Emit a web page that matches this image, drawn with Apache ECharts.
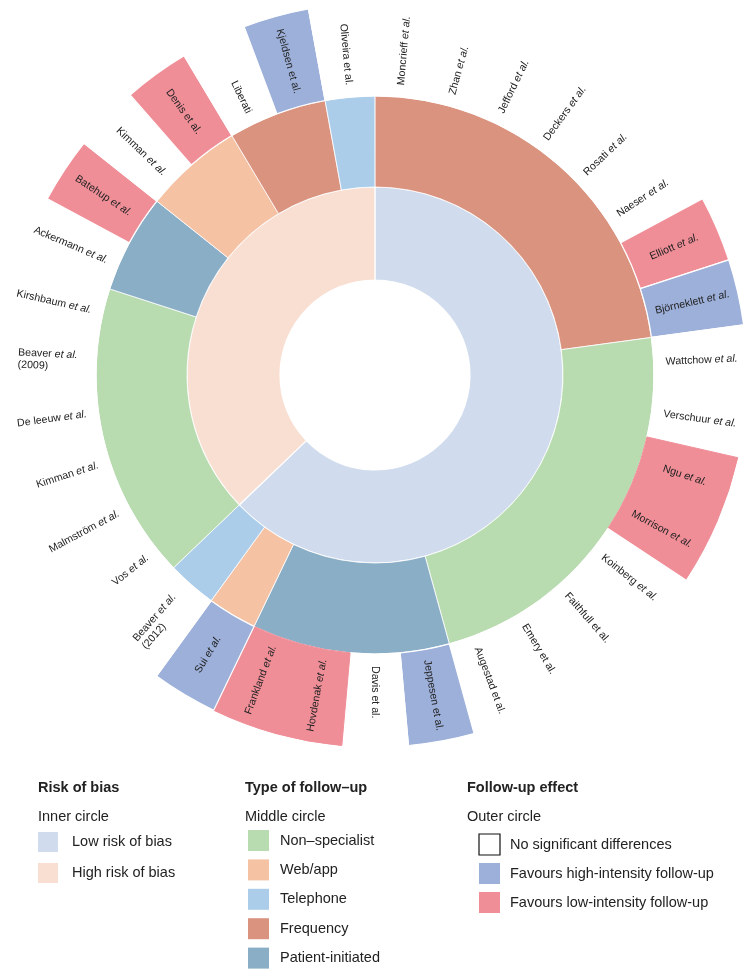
<!DOCTYPE html>
<html><head><meta charset="utf-8">
<script src="https://cdn.jsdelivr.net/npm/echarts@6/dist/echarts.min.js"></script>
<style>html,body{margin:0;padding:0;background:#fff}#c{width:750px;height:969px}</style>
</head><body><div id="c"></div>
<script>
// ---- categories ----
const riskNames = ['Low risk of bias', 'High risk of bias'];
const riskColors = ['#d0dcee', '#f9dfd2'];
const typeNames = ['Non–specialist', 'Web/app', 'Telephone', 'Frequency', 'Patient-initiated'];
const typeColors = ['#b8dbb0', '#f5c2a4', '#abcdea', '#d9937f', '#8aaec6'];
const effectNames = ['No significant differences', 'Favours high-intensity follow-up', 'Favours low-intensity follow-up'];
const effectColors = ['#ffffff', '#9db0da', '#f08e98'];

// ---- studies, clockwise from 12 o'clock ----
const studyNames = ['Moncrieff','Zhan','Jefford','Deckers','Rosati','Naeser','Elliott','Björneklett',
  'Wattchow','Verschuur','Ngu','Morrison','Koinberg','Faithfull','Emery','Augestad',
  'Jeppesen','Davis','Hovdenak','Frankland','Sui','Beaver',
  'Vos','Malmström','Kimman','De leeuw','Beaver','Kirshbaum',
  'Ackermann','Batehup','Kimman','Denis','Liberati','Kjeldsen','Oliveira'];
const studyYear = ['','','','','','','','', '','','','','','','','', '','','','','','(2012)',
  '','','','','(2009)','', '','','','','','',''];
// 'i' = italic "et al.", 'u' = upright "et al.", '' = none
const studyEtAl = ['i','i','i','i','i','i','i','i', 'i','i','i','i','i','u','u','u',
  'u','u','i','i','i','i', 'i','i','i','i','i','i', 'i','i','i','u','','u','u'];
const studyRisk = [0,0,0,0,0,0,0,0, 0,0,0,0,0,0,0,0, 0,0,0,0,0,0, 1,1,1,1,1,1, 1,1,1,1,1,1,1];
const studyType = [3,3,3,3,3,3,3,3, 0,0,0,0,0,0,0,0, 4,4,4,4,1,2, 0,0,0,0,0,0, 4,4,1,1,3,3,2];
const studyEffect = [0,0,0,0,0,0,2,1, 0,0,2,2,0,0,0,0, 1,0,2,2,1,0, 0,0,0,0,0,0, 0,2,0,2,0,1,0];
const studyWeight = [1,1,1,1,1,1,1,1, 1,1,1,1,1,1,1,1, 1,1,1,1,1,1, 1,1,1,1,1,1, 1,1,1,1,1,1,1];

const FONT = "'Liberation Sans', Arial, Helvetica, sans-serif";
const FS = 10.6;

function labelText(i) {
  let s = '{n|' + studyNames[i] + '}';
  if (studyEtAl[i]) s += '{n| }{' + studyEtAl[i] + '|et al.}';
  if (studyYear[i]) s += '\n{y|' + studyYear[i] + '}';
  return s;
}

// build tree: risk -> type -> study
const tree = [];
for (let i = 0; i < studyNames.length; i++) {
  let r = tree[tree.length - 1];
  if (!r || r._risk !== studyRisk[i]) {
    r = { name: riskNames[studyRisk[i]], _risk: studyRisk[i], itemStyle: { color: riskColors[studyRisk[i]] }, children: [] };
    tree.push(r);
  }
  let t = r.children[r.children.length - 1];
  if (!t || t._type !== studyType[i]) {
    t = { name: typeNames[studyType[i]], _type: studyType[i], itemStyle: { color: typeColors[studyType[i]] }, children: [] };
    r.children.push(t);
  }
  const eff = studyEffect[i];
  const sameAsPrev = i > 0 && eff !== 0 && studyEffect[i - 1] === eff && studyType[i - 1] === studyType[i] && studyRisk[i - 1] === studyRisk[i];
  const sameAsNext = i < studyNames.length - 1 && eff !== 0 && studyEffect[i + 1] === eff && studyType[i + 1] === studyType[i] && studyRisk[i + 1] === studyRisk[i];
  const merged = sameAsPrev || sameAsNext;
  t.children.push({
    name: studyNames[i] + (studyYear[i] ? ' ' + studyYear[i] : ''),
    value: studyWeight[i],
    itemStyle: merged ? { color: effectColors[eff], borderWidth: 1, borderColor: effectColors[eff] } : { color: effectColors[eff] },
    label: {
      align: eff === 0 ? 'left' : 'center',
      distance: studyYear[i] ? 19 : 12,
      formatter: labelText(i)
    }
  });
}

const richStyle = {
  n: { fontSize: FS, fontFamily: FONT, color: '#222', align: 'left' },
  i: { fontSize: FS, fontFamily: FONT, color: '#222', fontStyle: 'italic', align: 'left' },
  u: { fontSize: FS, fontFamily: FONT, color: '#222', align: 'left' },
  y: { fontSize: FS, fontFamily: FONT, color: '#222', align: 'left', lineHeight: 13 }
};

// ---- legend (graphic) ----
const graphics = [];
function legendColumn(title, sub, names, colors, x, swX, sw, textX, y0, step, outlineFirst) {
  graphics.push({ type: 'text', x: x, y: 788, style: { text: title, font: 'bold 14.5px ' + FONT, fill: '#222', verticalAlign: 'middle' } });
  graphics.push({ type: 'text', x: x, y: 817, style: { text: sub, font: '14.5px ' + FONT, fill: '#222', verticalAlign: 'middle' } });
  names.forEach((nm, k) => {
    const y = y0 + k * step;
    const outline = outlineFirst && k === 0;
    graphics.push({ type: 'rect', shape: { x: swX, y: y, width: sw, height: sw },
      style: outline ? { fill: '#fff', stroke: '#111', lineWidth: 1.2 } : { fill: colors[k] } });
    graphics.push({ type: 'text', x: textX, y: y + sw / 2, style: { text: nm, font: '14.5px ' + FONT, fill: '#222', verticalAlign: 'middle' } });
  });
}
legendColumn('Risk of bias', 'Inner circle', riskNames, riskColors, 38, 38, 20, 72, 832, 31, false);
legendColumn('Type of follow–up', 'Middle circle', typeNames, typeColors, 245, 248, 21, 280, 830, 29.4, false);
legendColumn('Follow-up effect', 'Outer circle', effectNames, effectColors, 467, 479, 21, 510, 834, 29, true);

const chart = echarts.init(document.getElementById('c'), null, { renderer: 'canvas' });
chart.setOption({
  animation: false,
  backgroundColor: '#fff',
  graphic: graphics,
  series: [{
    type: 'sunburst',
    center: [375, 375],
    radius: [95, 372],
    sort: null,
    startAngle: 90.02,
    nodeClick: false,
    emphasis: { disabled: true },
    itemStyle: { borderColor: '#fff', borderWidth: 1 },
    data: tree,
    levels: [
      {},
      { radius: [95, 188], label: { show: false }, itemStyle: { borderWidth: 1.2, borderColor: '#fff' } },
      { radius: [188, 279], label: { show: false }, itemStyle: { borderWidth: 0.8, borderColor: '#fff' } },
      { radius: [279, 372], label: { show: true, rotate: 'radial', fontSize: FS, fontFamily: FONT, color: '#222', rich: richStyle },
        itemStyle: { borderWidth: 1.2, borderColor: '#fff' } }
    ]
  }]
});
</script></body></html>
